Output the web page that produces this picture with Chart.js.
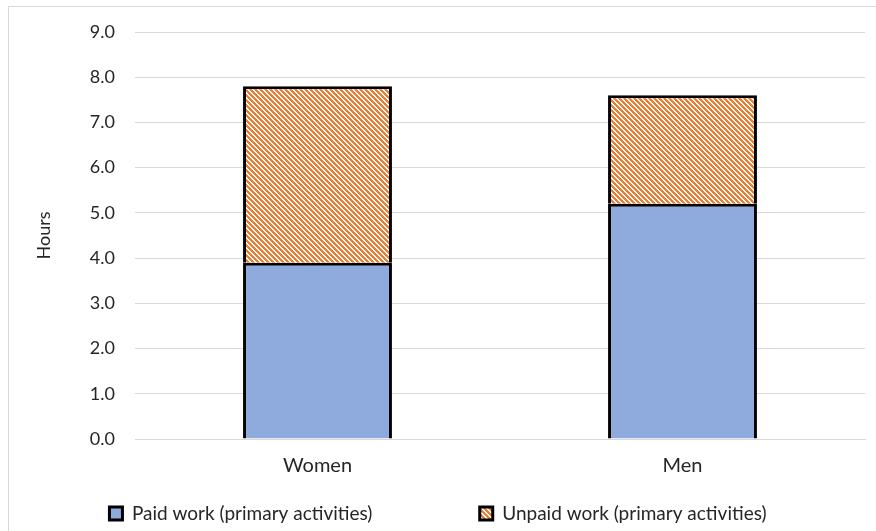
<!DOCTYPE html>
<html>
<head>
<meta charset="utf-8">
<script src="https://cdn.jsdelivr.net/npm/chart.js@4"></script>
<style>
    html, body { margin: 0; padding: 0; background: #ffffff; }
    #wrap { width: 876px; height: 531px; }
</style>
</head>
<body>
<div id="wrap"><canvas id="barChart" width="876" height="531"></canvas></div>
<script>
"use strict";

// Data
const categories = ["Women", "Men"];
const paidWork = [3.9, 5.2];
const unpaidWork = [3.9, 2.4];
const seriesNames = ["Paid work (primary activities)", "Unpaid work (primary activities)"];

// Randig orange fyllning (som Excels "wide downward diagonal")
function makeStripes() {
    const n = 5;
    const tile = document.createElement("canvas");
    tile.width = n;
    tile.height = n;
    const c = tile.getContext("2d");
    c.fillStyle = "#ffffff";
    c.fillRect(0, 0, n, n);
    c.fillStyle = "#ed7d31";
    for (let y = 0; y < n; y++) {
        for (let x = 0; x < n; x++) {
            if (((x - y) % n + n) % n < 3) c.fillRect(x, y, 1, 1);
        }
    }
    return c.createPattern(tile, "repeat");
}

// Ram runt hela diagrammet + fast höjd på legenden
const framePlugin = {
    id: "frame",
    afterInit(chart) {
        const legend = chart.legend;
        const fit = legend.fit;
        legend.fit = function () {
            fit.call(this);
            this.height = 37;
        };
    },
    beforeDraw(chart) {
        const ctx = chart.ctx;
        ctx.save();
        ctx.strokeStyle = "#d9d9d9";
        ctx.lineWidth = 1;
        ctx.strokeRect(8.5, 6.5, 900, 600);
        ctx.restore();
    }
};

const family = "Lato, 'Open Sans', sans-serif";
const tickFont = { family: family, size: 18 };
const catFont = { family: family, size: 20 };
const legendFont = { family: family, size: 19 };
const ctx = document.getElementById("barChart").getContext("2d");
const stripes = makeStripes();

new Chart(ctx, {
    type: "bar",
    data: {
        labels: categories,
        datasets: [{
            label: seriesNames[0] + "                    ",
            data: paidWork,
            backgroundColor: "#8faadc",
            borderColor: "#000000",
            borderWidth: 3
        }, {
            label: seriesNames[1],
            data: unpaidWork,
            backgroundColor: stripes,
            borderColor: "#000000",
            borderWidth: 3
        }]
    },
    options: {
        responsive: false,
        animation: false,
        layout: {
            padding: { top: 32, left: 11, right: 11, bottom: 0 }
        },
        datasets: {
            bar: { barPercentage: 0.408, categoryPercentage: 1 }
        },
        plugins: {
            legend: {
                position: "bottom",
                labels: {
                    font: legendFont,
                    color: "#262626",
                    boxWidth: 13,
                    boxHeight: 13,
                    padding: 10
                }
            },
            tooltip: { enabled: false }
        },
        scales: {
            x: {
                stacked: true,
                grid: { display: false, drawTicks: false },
                border: { display: true, color: "#d9d9d9", width: 1 },
                ticks: { font: catFont, color: "#262626", padding: 15 },
                afterFit(scale) { scale.height = 55; }
            },
            y: {
                stacked: true,
                min: 0,
                max: 9,
                grid: { color: "#d9d9d9", drawTicks: false },
                border: { display: false },
                ticks: {
                    stepSize: 1,
                    font: tickFont,
                    color: "#262626",
                    padding: 20,
                    callback: v => v.toFixed(1)
                },
                title: {
                    display: true,
                    text: "Hours",
                    font: tickFont,
                    color: "#262626",
                    padding: { top: 22, bottom: 0 }
                },
                afterFit(scale) { scale.width = 124; }
            }
        }
    },
    plugins: [framePlugin]
});
</script>
</body>
</html>
